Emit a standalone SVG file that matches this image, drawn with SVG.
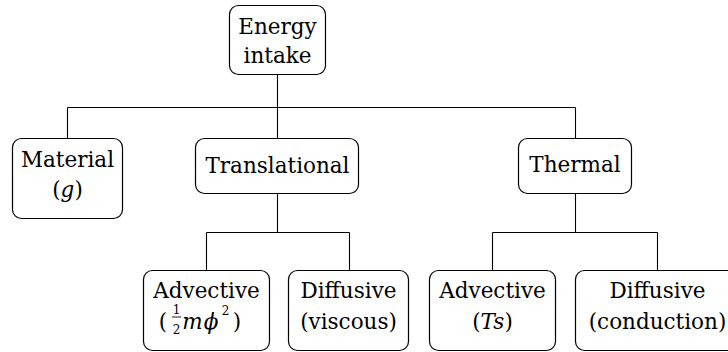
<svg xmlns="http://www.w3.org/2000/svg" width="728" height="352" viewBox="0 0 728 352">
<style>
.box{fill:#fff;stroke:#000;stroke-width:1.2}
.t{font-family:"DejaVu Serif","Liberation Serif",serif;font-size:21.5px;fill:#000;text-anchor:middle}
.m{font-style:italic}
.s{font-family:"DejaVu Serif","Liberation Serif",serif;font-size:12px;fill:#000;text-anchor:middle}
.c{fill:none;stroke:#000;stroke-width:1.1}
</style>
<rect width="728" height="352" fill="#fff"/>
<g id="connectors">
<path class="c" d="M277.5 74.5V138.5M67.5 107.5H575.5M67.5 107.5V138.5M575.5 107.5V138.5"/>
<path class="c" d="M277.5 193.5V232.5M206.5 232.5H349.5M206.5 232.5V270.5M349.5 232.5V270.5"/>
<path class="c" d="M575.5 193.5V232.5M492.5 232.5H657.5M492.5 232.5V270.5M657.5 232.5V270.5"/>
</g>
<g id="energy">
<rect class="box" x="229.5" y="5.5" width="96" height="69" rx="9"/>
<text class="t" x="277.5" y="34">Energy</text>
<text class="t" x="277.5" y="63">intake</text>
</g>
<g id="material">
<rect class="box" x="12.5" y="138.5" width="110" height="80" rx="9"/>
<text class="t" x="67.5" y="167">Material</text>
<text class="t" x="67.5" y="197">(<tspan class="m">g</tspan>)</text>
</g>
<g id="translational">
<rect class="box" x="195.5" y="138.5" width="163" height="55" rx="9"/>
<text class="t" x="277.5" y="173">Translational</text>
</g>
<g id="thermal">
<rect class="box" x="518.5" y="138.5" width="113" height="55" rx="9"/>
<text class="t" x="575" y="172">Thermal</text>
</g>
<g id="adv-trans">
<rect class="box" x="143.5" y="270.5" width="126" height="80" rx="9"/>
<text class="t" x="206.5" y="298">Advective</text>
<text class="t" x="163" y="329">(</text>
<text class="s" x="176.5" y="314">1</text>
<line x1="172" y1="317" x2="181" y2="317" stroke="#000" stroke-width="0.9"/>
<text class="s" x="176.5" y="334">2</text>
<text class="t m" x="192.5" y="329">m</text>
<text class="t m" x="211" y="329">ϕ</text>
<text class="s" x="225.5" y="315">2</text>
<text class="t" x="237" y="329">)</text>
</g>
<g id="diff-trans">
<rect class="box" x="288.5" y="270.5" width="120" height="80" rx="9"/>
<text class="t" x="348.5" y="298">Diffusive</text>
<text class="t" x="348.5" y="329">(viscous)</text>
</g>
<g id="adv-thermal">
<rect class="box" x="429.5" y="270.5" width="126" height="80" rx="9"/>
<text class="t" x="492.5" y="298">Advective</text>
<text class="t" x="492.5" y="329">(<tspan class="m">Ts</tspan>)</text>
</g>
<g id="diff-thermal">
<rect class="box" x="575.5" y="270.5" width="164" height="80" rx="9"/>
<text class="t" x="657.5" y="298">Diffusive</text>
<text class="t" x="657.5" y="329">(conduction)</text>
</g>
</svg>
